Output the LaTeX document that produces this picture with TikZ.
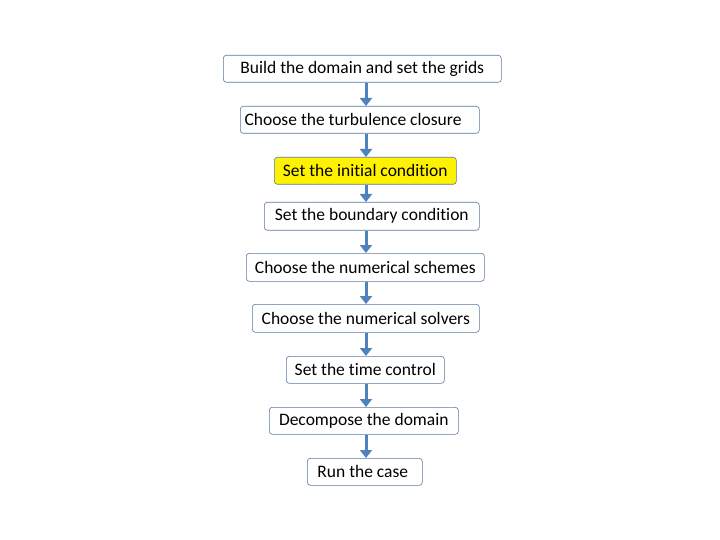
\documentclass[tikz,border=0pt]{standalone}
\usepackage{fontspec}
\setmainfont[Ligatures={NoCommon}]{Carlito}
\usetikzlibrary{arrows.meta}
\definecolor{arr}{RGB}{79,129,189}
\definecolor{bord}{RGB}{90,120,160}
\tikzset{
 box/.style={draw=bord,rounded corners=3pt,line width=0.6pt,inner sep=0pt},
 conn/.style={draw=arr,line width=3pt,-{Triangle[length=8pt,width=12pt]}}
}
\newcommand{\bx}[6]{\node[box,#6,minimum width=#3pt-#1pt,minimum height=#4pt-#2pt,anchor=north west] (#5) at (#1pt,-#2pt) {};}
\begin{document}
\begin{tikzpicture}[x=1pt,y=1pt,font=\fontsize{17.5}{20}\selectfont]
\useasboundingbox (0,0) rectangle (720,-540);
\bx{223}{55}{501}{82}{b1}{}
\bx{240}{106}{479}{133}{b2}{}
\bx{274}{157}{456}{184}{b3}{fill=yellow}
\bx{264}{202}{479}{230}{b4}{}
\bx{246}{253}{484}{281}{b5}{}
\bx{252}{304}{479}{332}{b6}{}
\bx{286}{356}{444}{383}{b7}{}
\bx{269}{407}{458}{434}{b8}{}
\bx{307}{458}{422}{485}{b9}{}
\node at (b1.center) {Build the domain and set the grids};
\node[anchor=west] at ([xshift=1pt]b2.west) {Choose the turbulence closure};
\node at (b3.center) {Set the initial condition};
\node at (b4.center) {Set the boundary condition};
\node at (b5.center) {Choose the numerical schemes};
\node at (b6.center) {Choose the numerical solvers};
\node at (b7.center) {Set the time control};
\node at (b8.center) {Decompose the domain};
\node at ([xshift=-2pt]b9.center) {Run the case};
\foreach \a/\b in {b1/b2,b2/b3,b3/b4,b4/b5,b5/b6,b6/b7,b7/b8,b8/b9}{
 \draw[conn] (366,0 |- \a.south) -- (366,0 |- \b.north);
}
\end{tikzpicture}
\end{document}
